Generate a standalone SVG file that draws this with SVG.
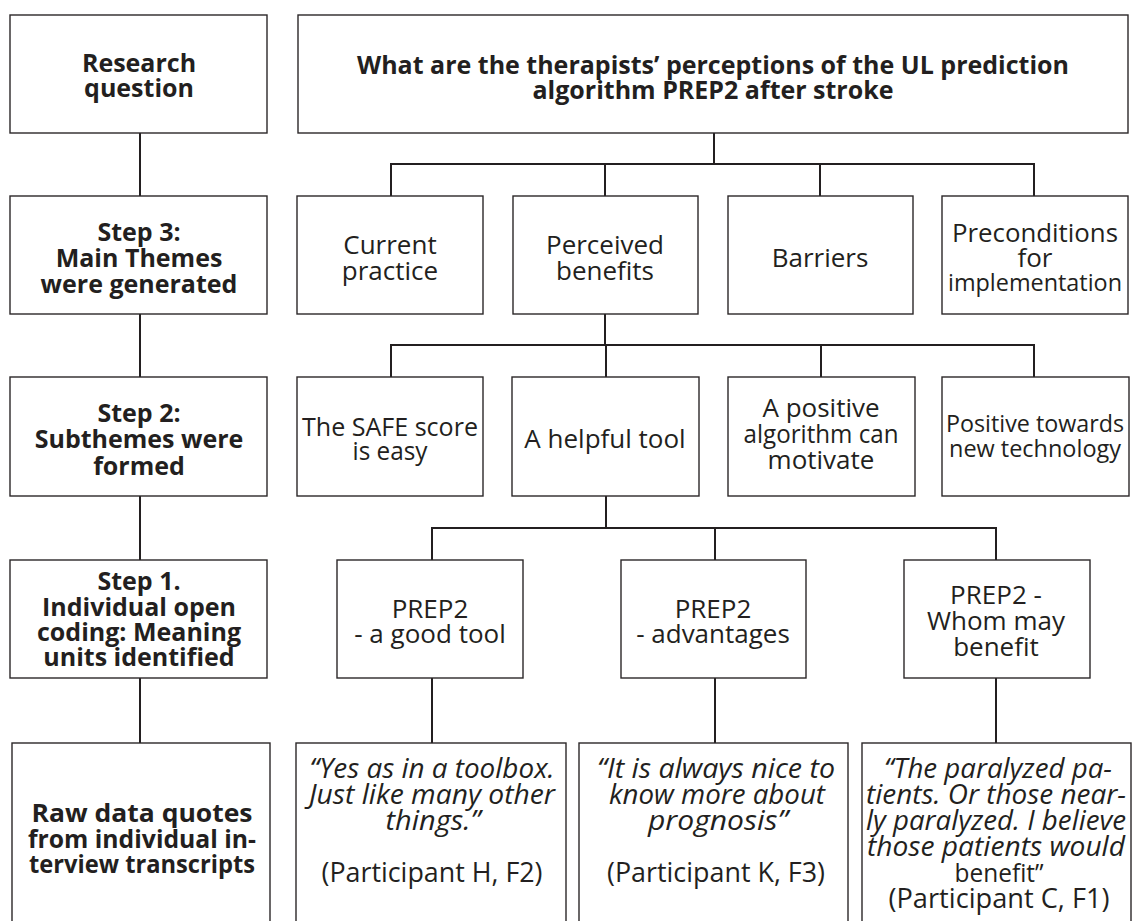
<svg xmlns="http://www.w3.org/2000/svg" width="1134" height="921" viewBox="0 0 1134 921">
  <style>
    .box { fill: #ffffff; stroke: #2b2728; stroke-width: 1.4; }
    .wire { fill: none; stroke: #231f20; stroke-width: 2; }
    text { font-family: "Open Sans", "Noto Sans", sans-serif; font-size: 26px; fill: #231f20; text-anchor: middle; }
    .b { font-weight: 700; font-size: 25px; }
    .i { font-style: italic; font-size: 27px; }
    .p { font-size: 26.5px; }
    .n { font-size: 24px; }
  </style>
  <rect width="1134" height="921" fill="#ffffff"/>

  <!-- connectors -->
  <g id="connectors">
    <!-- left column spine -->
    <path class="wire" d="M140 133 V196 M140 314 V377 M140 496 V560 M140 678 V743"/>
    <!-- question to main themes -->
    <path class="wire" d="M714 133 V164 M391 196 V164 H1034 V196 M605 164 V196 M820 164 V196"/>
    <!-- perceived benefits to subthemes -->
    <path class="wire" d="M605 314 V345 M391 377 V345 H1034 V377 M606 345 V377 M821 345 V377"/>
    <!-- helpful tool to meaning units -->
    <path class="wire" d="M606 496 V528 M432 560 V528 H996 V560 M715 528 V560"/>
    <!-- meaning units to quotes -->
    <path class="wire" d="M432 678 V743 M715 678 V743 M996 678 V743"/>
  </g>

  <!-- left column -->
  <g id="research-question">
    <rect class="box" x="10" y="15" width="257" height="118"/>
    <text class="b" x="139" y="72">Research</text>
    <text class="b" x="139" y="97">question</text>
  </g>
  <g id="step3">
    <rect class="box" x="10" y="196" width="257" height="118"/>
    <text class="b" x="139" y="241">Step 3:</text>
    <text class="b" x="139" y="267">Main Themes</text>
    <text class="b" x="139" y="293">were generated</text>
  </g>
  <g id="step2">
    <rect class="box" x="10" y="377" width="257" height="119"/>
    <text class="b" x="139" y="422">Step 2:</text>
    <text class="b" x="139" y="448">Subthemes were</text>
    <text class="b" x="139" y="475">formed</text>
  </g>
  <g id="step1">
    <rect class="box" x="10" y="560" width="257" height="118"/>
    <text class="b" x="139" y="590">Step 1.</text>
    <text class="b" x="139" y="616">Individual open</text>
    <text class="b" x="139" y="641">coding: Meaning</text>
    <text class="b" x="139" y="666">units identified</text>
  </g>
  <g id="raw-data">
    <rect class="box" x="12" y="743" width="258" height="200"/>
    <text class="b" x="142" y="822" textLength="221" lengthAdjust="spacingAndGlyphs">Raw data quotes</text>
    <text class="b" x="142" y="848" textLength="228" lengthAdjust="spacingAndGlyphs">from individual in-</text>
    <text class="b" x="142" y="873" textLength="226" lengthAdjust="spacingAndGlyphs">terview transcripts</text>
  </g>

  <!-- research question -->
  <g id="question">
    <rect class="box" x="298" y="15" width="830" height="118"/>
    <text class="b" x="713" y="74">What are the therapists’ perceptions of the UL prediction</text>
    <text class="b" x="713" y="99">algorithm PREP2 after stroke</text>
  </g>

  <!-- main themes -->
  <g id="current-practice">
    <rect class="box" x="297" y="196" width="186" height="118"/>
    <text x="390" y="254">Current</text>
    <text x="390" y="280">practice</text>
  </g>
  <g id="perceived-benefits">
    <rect class="box" x="513" y="196" width="185" height="118"/>
    <text x="605" y="254">Perceived</text>
    <text x="605" y="280">benefits</text>
  </g>
  <g id="barriers">
    <rect class="box" x="728" y="196" width="185" height="118"/>
    <text x="820" y="267">Barriers</text>
  </g>
  <g id="preconditions">
    <rect class="box" x="942" y="196" width="186" height="118"/>
    <text x="1035" y="242" textLength="166" lengthAdjust="spacingAndGlyphs">Preconditions</text>
    <text x="1035" y="267">for</text>
    <text class="n" x="1035" y="291" textLength="174" lengthAdjust="spacingAndGlyphs">implementation</text>
  </g>

  <!-- subthemes -->
  <g id="safe-score">
    <rect class="box" x="297" y="377" width="186" height="119"/>
    <text x="390" y="436" textLength="176" lengthAdjust="spacingAndGlyphs">The SAFE score</text>
    <text x="390" y="460" textLength="75" lengthAdjust="spacingAndGlyphs">is easy</text>
  </g>
  <g id="helpful-tool">
    <rect class="box" x="512" y="377" width="187" height="119"/>
    <text x="605" y="448">A helpful tool</text>
  </g>
  <g id="positive-algorithm">
    <rect class="box" x="728" y="377" width="187" height="119"/>
    <text x="821" y="417">A positive</text>
    <text x="821" y="443" textLength="155" lengthAdjust="spacingAndGlyphs">algorithm can</text>
    <text x="821" y="469">motivate</text>
  </g>
  <g id="new-technology">
    <rect class="box" x="942" y="377" width="187" height="119"/>
    <text class="n" x="1035" y="432" textLength="178" lengthAdjust="spacingAndGlyphs">Positive towards</text>
    <text class="n" x="1035" y="457" textLength="172" lengthAdjust="spacingAndGlyphs">new technology</text>
  </g>

  <!-- meaning units -->
  <g id="good-tool">
    <rect class="box" x="337" y="560" width="186" height="118"/>
    <text x="430" y="618">PREP2</text>
    <text x="430" y="643">- a good tool</text>
  </g>
  <g id="advantages">
    <rect class="box" x="621" y="560" width="185" height="118"/>
    <text x="713" y="618">PREP2</text>
    <text x="713" y="643">- advantages</text>
  </g>
  <g id="whom-may-benefit">
    <rect class="box" x="904" y="560" width="186" height="118"/>
    <text x="996" y="604">PREP2 -</text>
    <text x="996" y="630">Whom may</text>
    <text x="996" y="656">benefit</text>
  </g>

  <!-- quotes -->
  <g id="quote-h">
    <rect class="box" x="296" y="743" width="270" height="200"/>
    <text class="i" x="432" y="778" textLength="245" lengthAdjust="spacingAndGlyphs">“Yes as in a toolbox.</text>
    <text class="i" x="432" y="804" textLength="246" lengthAdjust="spacingAndGlyphs">Just like many other</text>
    <text class="i" x="433" y="830" textLength="95" lengthAdjust="spacingAndGlyphs">things.”</text>
    <text class="p" x="432" y="882" textLength="221" lengthAdjust="spacingAndGlyphs">(Participant H, F2)</text>
  </g>
  <g id="quote-k">
    <rect class="box" x="579" y="743" width="269" height="200"/>
    <text class="i" x="716" y="778" textLength="238" lengthAdjust="spacingAndGlyphs">“It is always nice to</text>
    <text class="i" x="717" y="804" textLength="216" lengthAdjust="spacingAndGlyphs">know more about</text>
    <text class="i" x="718" y="830" textLength="140" lengthAdjust="spacingAndGlyphs">prognosis”</text>
    <text class="p" x="716" y="882" textLength="218" lengthAdjust="spacingAndGlyphs">(Participant K, F3)</text>
  </g>
  <g id="quote-c">
    <rect class="box" x="862" y="743" width="269" height="200"/>
    <text class="i" x="998" y="778" textLength="228" lengthAdjust="spacingAndGlyphs">“The paralyzed pa-</text>
    <text class="i" x="996" y="804" textLength="260" lengthAdjust="spacingAndGlyphs">tients. Or those near-</text>
    <text class="i" x="996" y="830" textLength="260" lengthAdjust="spacingAndGlyphs">ly paralyzed. I believe</text>
    <text class="i" x="996" y="856" textLength="258" lengthAdjust="spacingAndGlyphs">those patients would</text>
    <text x="999" y="882" textLength="89" lengthAdjust="spacingAndGlyphs">benefit”</text>
    <text class="p" x="999" y="908" textLength="221" lengthAdjust="spacingAndGlyphs">(Participant C, F1)</text>
  </g>
</svg>
